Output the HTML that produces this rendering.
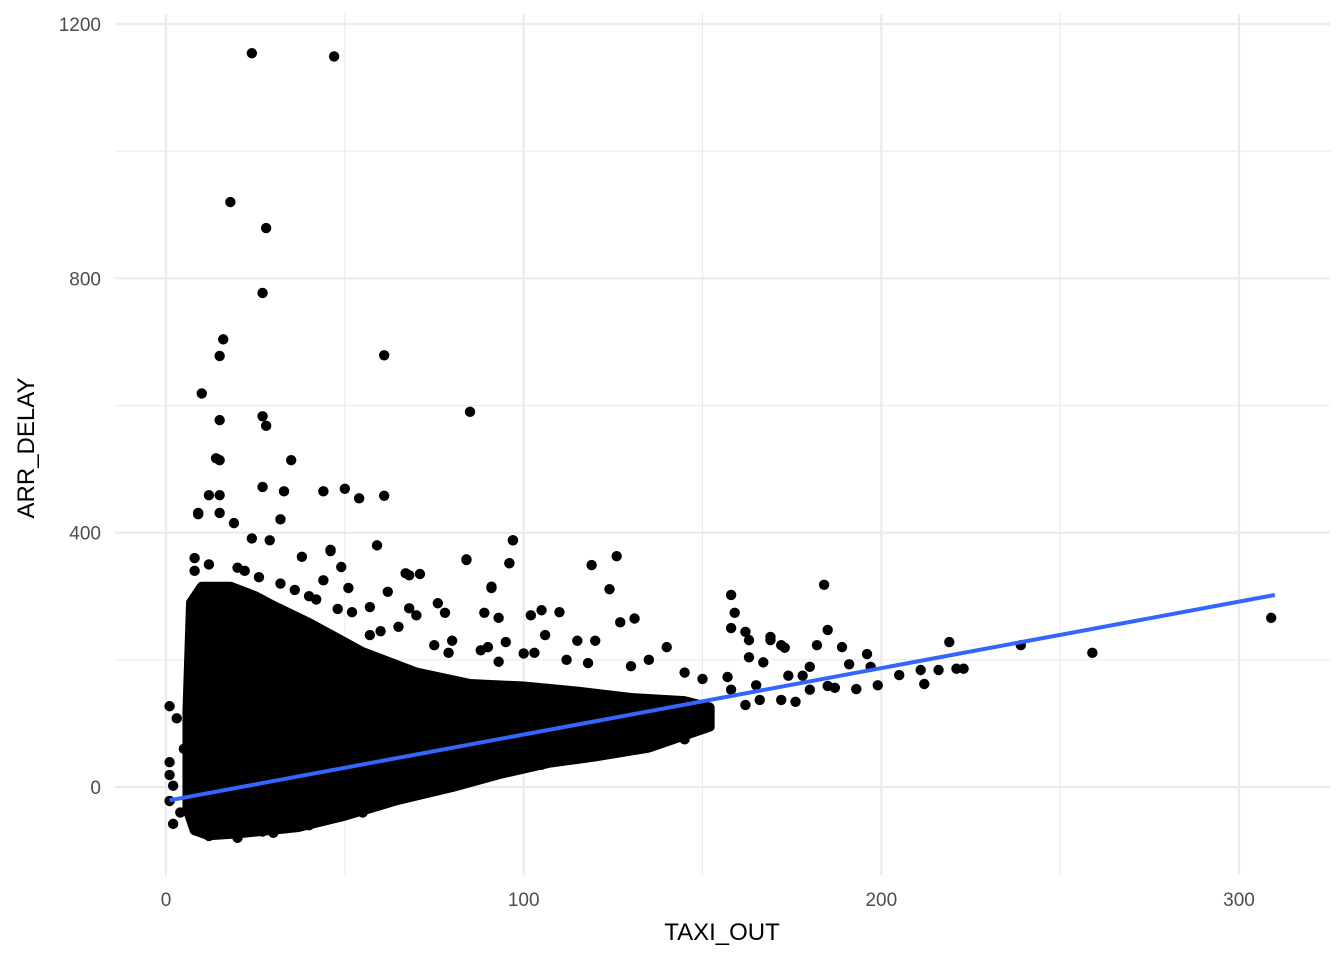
<!DOCTYPE html>
<html><head><meta charset="utf-8">
<style>
html,body{margin:0;padding:0;background:#fff;}
svg{display:block;font-family:"Liberation Sans",Arial,sans-serif;}
</style></head>
<body>
<svg id="chart" width="1344" height="960">
  <g id="grid"></g>
  <g id="marks"></g>
  <g id="fit"></g>
  <g id="axes"></g>
  <text x="722" y="940" text-anchor="middle" font-size="24" fill="#000">TAXI_OUT</text>
  <text transform="translate(34,448) rotate(-90)" text-anchor="middle" font-size="24" fill="#000">ARR_DELAY</text>
</svg>
<script>
const xTicks = [0, 100, 200, 300];
const xMinor = [50, 150, 250];
const yTicks = [0, 400, 800, 1200];
const yMinor = [200, 600, 1000];
// dense cloud envelope (data units)
const envUpperX = [6, 7, 10, 18, 25, 30, 40, 55, 70, 85, 100, 115, 130, 145, 152];
const envUpperY = [120, 290, 315, 315, 300, 285, 258, 212, 180, 162, 158, 150, 140, 135, 125];
const envLowerX = [152, 135, 120, 107, 93, 80, 65, 50, 37, 20, 12, 8, 6];
const envLowerY = [95, 62, 48, 38, 20, 0, -20, -45, -63, -73, -76, -68, -35];
// individual points
const ptX = [24,47,18,28,27,16,15,61,10,85,15,27,28,14,15,35,15,27,33,44,50,54,61,32,9,97,84,96,126,119,124,91,67,71,59,46,219,239,259,309,106,127,169,131,
  158,159,158,162,163,169,172,173,163,167,182,185,184,189,191,196,197,205,211,216,212,221,223,157,174,178,180,185,187,193,199,166,172,180,158,165,162,176,
  82,44,2,27,12,1,1,1,1,3,2,4,5,70,80,90,110,120,140,100,115,
  12,9,15,19,24,29,38,46,49,51,44,57,62,68,68,76,78,89,93,95,91,102,105,65,57,75,79,88,93,103,84,96,97,
  8,8,12,20,22,26,32,36,40,42,48,52,60,130,135,145,150,112,118,
  20,30,40,55,72,88,105,125,145];
const ptY = [1154,1149,920,879,777,704,678,679,619,590,577,583,568,517,514,514,459,472,465,465,469,454,458,421,429,388,358,352,363,349,311,313,336,335,380,371,228,223,211,266,239,259,231,265,
  302,274,250,244,231,236,223,219,204,196,223,247,318,220,193,209,189,176,184,184,162,186,186,173,175,175,189,159,156,154,160,137,137,153,153,160,129,134,
  6,-53,-58,-70,-77,127,39,19,-22,108,2,-40,60,270,230,220,275,230,220,210,230,
  459,431,431,415,391,388,362,373,346,313,325,283,307,281,333,289,274,274,266,228,315,270,278,252,239,223,211,215,197,211,357,352,388,
  340,360,350,345,340,330,320,310,300,295,280,275,245,190,200,180,170,200,195,
  -80,-72,-60,-40,-10,15,35,55,75];
const fitIntercept = -22;
const fitSlope = 1.045;
const fitRange = [1, 310];

const NS = "http://www.w3.org/2000/svg";
const sx = v => 166 + v * 3.5767;
const sy = v => 787 - v * 0.63583;
const L = 115, R = 1330, T = 14, B = 875;
function mk(tag, attrs, parent){ const e=document.createElementNS(NS,tag); for(const k in attrs) e.setAttribute(k,attrs[k]); parent.appendChild(e); return e; }
const grid = document.getElementById('grid');
yMinor.forEach(v=>{ const l=mk('line',{x1:L,x2:R,y1:sy(v),y2:sy(v),stroke:'#ebebeb','stroke-width':1.1},grid);
  
   });
xMinor.forEach(v=>{ const l=mk('line',{x1:sx(v),x2:sx(v),y1:T,y2:B,stroke:'#ebebeb','stroke-width':1.1},grid);
  
   });
yTicks.forEach(v=>{ const l=mk('line',{x1:L,x2:R,y1:sy(v),y2:sy(v),stroke:'#ebebeb','stroke-width':2.2},grid);
  
   });
xTicks.forEach(v=>{ const l=mk('line',{x1:sx(v),x2:sx(v),y1:T,y2:B,stroke:'#ebebeb','stroke-width':2.2},grid);
  
   });
const axes = document.getElementById('axes');
xTicks.forEach(v=>{ const t=mk('text',{x:sx(v),y:906,'text-anchor':'middle','font-size':19,fill:'#4d4d4d'},axes); t.textContent=v;
  
   });
yTicks.forEach(v=>{ const t=mk('text',{x:101,y:sy(v)+7,'text-anchor':'end','font-size':19,fill:'#4d4d4d'},axes); t.textContent=v;
  
   });
const marks = document.getElementById('marks');
let pts = [];
envUpperX.forEach((x,i)=>pts.push(sx(x)+','+sy(envUpperY[i])));
envLowerX.forEach((x,i)=>pts.push(sx(x)+','+sy(envLowerY[i])));
const blob = mk('polygon',{points:pts.join(' '),fill:'#000',stroke:'#000','stroke-width':10,'stroke-linejoin':'round'},marks);


ptX.forEach((x,i)=>{ const c=mk('circle',{cx:sx(x),cy:sy(ptY[i]),r:5.2,fill:'#000'},marks);
  
   });
const fit = document.getElementById('fit');
const fl = mk('line',{x1:sx(fitRange[0]),y1:sy(fitIntercept+fitSlope*fitRange[0]),x2:sx(fitRange[1]),y2:sy(fitIntercept+fitSlope*fitRange[1]),stroke:'#3366ff','stroke-width':4},fit);


</script>
</body></html>
